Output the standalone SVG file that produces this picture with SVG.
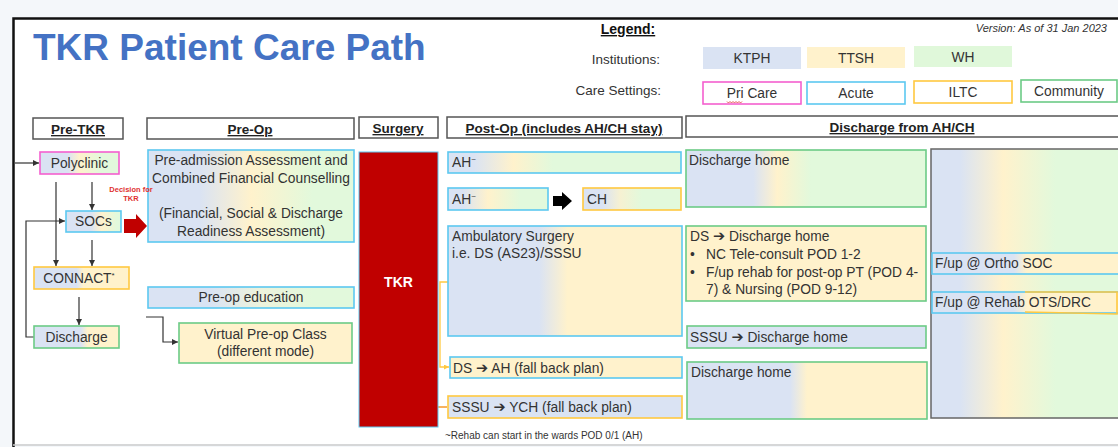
<svg xmlns="http://www.w3.org/2000/svg" width="1118" height="447" viewBox="0 0 1118 447">
<defs>
<style>
text{font-family:"Liberation Sans",Arial,sans-serif;fill:#333}
.t{font-size:13.8px}
.c{text-anchor:middle}
.a{font-family:"DejaVu Sans",sans-serif;font-size:14.5px}
.h{font-size:13.5px;font-weight:bold;text-decoration:underline;text-anchor:middle;fill:#222}
.hb{fill:#fff;stroke:#555;stroke-width:1.5}
.cy{stroke:#5cc8f0;stroke-width:1.6}
.mg{stroke:#f45fcf;stroke-width:1.6}
.gd{stroke:#ffc940;stroke-width:1.6}
.gr{stroke:#6ccb86;stroke-width:1.6}
.con{fill:none;stroke:#333;stroke-width:1.2}
</style>
<marker id="ar" markerUnits="userSpaceOnUse" markerWidth="6" markerHeight="6" refX="6" refY="3" orient="auto"><path d="M0,0 L6,3 L0,6 z" fill="#333"/></marker>
<marker id="arg" markerUnits="userSpaceOnUse" markerWidth="5" markerHeight="5" refX="5" refY="2.5" orient="auto"><path d="M0,0 L5,2.5 L0,5 z" fill="#ffc940"/></marker>
<linearGradient id="gPoly"><stop offset="0" stop-color="#dae3f3"/><stop offset="0.35" stop-color="#dae3f3"/><stop offset="0.5" stop-color="#fff2cc"/><stop offset="0.78" stop-color="#e2f9dc"/><stop offset="1" stop-color="#e2f9dc"/></linearGradient>
<linearGradient id="gSoc"><stop offset="0" stop-color="#dae3f3"/><stop offset="0.45" stop-color="#dae3f3"/><stop offset="0.65" stop-color="#fff2cc"/><stop offset="0.92" stop-color="#e2f9dc"/></linearGradient>
<linearGradient id="gBY45"><stop offset="0" stop-color="#dae3f3"/><stop offset="0.45" stop-color="#dae3f3"/><stop offset="0.52" stop-color="#fff2cc"/><stop offset="1" stop-color="#fff2cc"/></linearGradient>
<linearGradient id="gBY56"><stop offset="0" stop-color="#dae3f3"/><stop offset="0.55" stop-color="#dae3f3"/><stop offset="0.63" stop-color="#fff2cc"/><stop offset="1" stop-color="#fff2cc"/></linearGradient>
<linearGradient id="gBY39"><stop offset="0" stop-color="#dae3f3"/><stop offset="0.39" stop-color="#dae3f3"/><stop offset="0.51" stop-color="#fff2cc"/><stop offset="1" stop-color="#fff2cc"/></linearGradient>
<linearGradient id="gBY43"><stop offset="0" stop-color="#dae3f3"/><stop offset="0.43" stop-color="#dae3f3"/><stop offset="0.5" stop-color="#fff2cc"/><stop offset="1" stop-color="#fff2cc"/></linearGradient>
<linearGradient id="gPre"><stop offset="0" stop-color="#dae3f3"/><stop offset="0.25" stop-color="#dae3f3"/><stop offset="0.5" stop-color="#fff2cc"/><stop offset="0.8" stop-color="#e2f9dc"/><stop offset="1" stop-color="#e2f9dc"/></linearGradient>
<linearGradient id="gEdu"><stop offset="0" stop-color="#dae3f3"/><stop offset="0.3" stop-color="#dae3f3"/><stop offset="0.55" stop-color="#eef3dc"/><stop offset="0.8" stop-color="#e2f9dc"/><stop offset="1" stop-color="#e2f9dc"/></linearGradient>
<linearGradient id="gAH1"><stop offset="0" stop-color="#dae3f3"/><stop offset="0.11" stop-color="#dae3f3"/><stop offset="0.28" stop-color="#fff2cc"/><stop offset="0.45" stop-color="#e2f9dc"/><stop offset="1" stop-color="#e2f9dc"/></linearGradient>
<linearGradient id="gAH2"><stop offset="0" stop-color="#dae3f3"/><stop offset="0.15" stop-color="#dae3f3"/><stop offset="0.4" stop-color="#fff2cc"/><stop offset="0.72" stop-color="#e2f9dc"/><stop offset="1" stop-color="#e2f9dc"/></linearGradient>
<linearGradient id="gCH"><stop offset="0" stop-color="#dae3f3"/><stop offset="0.2" stop-color="#dae3f3"/><stop offset="0.38" stop-color="#f6f1d2"/><stop offset="0.6" stop-color="#e2f9dc"/><stop offset="1" stop-color="#e2f9dc"/></linearGradient>
<linearGradient id="gDH1"><stop offset="0" stop-color="#dae3f3"/><stop offset="0.28" stop-color="#dae3f3"/><stop offset="0.38" stop-color="#fff2cc"/><stop offset="0.52" stop-color="#e2f9dc"/><stop offset="1" stop-color="#e2f9dc"/></linearGradient>
<linearGradient id="gBig"><stop offset="0" stop-color="#dae3f3"/><stop offset="0.15" stop-color="#dae3f3"/><stop offset="0.37" stop-color="#fff2cc"/><stop offset="0.64" stop-color="#e2f9dc"/><stop offset="1" stop-color="#e2f9dc"/></linearGradient>
</defs>

<rect x="0" y="0" width="1118" height="447" fill="#f4f7fa"/>
<rect x="13" y="18" width="1110" height="426" fill="#fff"/>
<path d="M13.5,447 V18.5 H1118" fill="none" stroke="#111" stroke-width="2.5"/>
<path d="M13,445 H1118" stroke="#ccc" stroke-width="1.5"/>

<g id="title"><text x="33" y="60" style="font-size:37px;font-weight:bold;fill:#4472c4">TKR Patient Care Path</text></g>

<g id="legend">
<text x="628" y="34" style="font-size:14px;font-weight:bold;text-decoration:underline;text-anchor:middle;fill:#111">Legend:</text>
<text x="1107" y="32" style="font-size:11px;font-style:italic;text-anchor:end">Version: As of 31 Jan 2023</text>
<text x="660" y="64" style="font-size:13.5px;text-anchor:end">Institutions:</text>
<text x="661" y="95" style="font-size:13.5px;text-anchor:end">Care Settings:</text>
<rect x="703" y="47" width="98" height="22" fill="#dae3f3"/>
<text x="752" y="63" class="t c">KTPH</text>
<rect x="807" y="47" width="98" height="21" fill="#fff2cc"/>
<text x="856" y="63" class="t c">TTSH</text>
<rect x="914" y="46" width="98" height="21" fill="#e0f8da"/>
<text x="963" y="62" class="t c">WH</text>
<rect x="703" y="82" width="98" height="22" fill="#fff" class="mg"/>
<text x="752" y="98" class="t c">Pri Care</text>
<path d="M727,101.5 l1.5,1.5 l1.5,-1.5 l1.5,1.5 l1.5,-1.5 l1.5,1.5 l1.5,-1.5 l1.5,1.5 l1.5,-1.5 l1.5,1.5 l1.5,-1.5" fill="none" stroke="#e03030" stroke-width="0.8"/>
<rect x="807" y="82" width="98" height="22" fill="#fff" class="cy"/>
<text x="856" y="98" class="t c">Acute</text>
<rect x="914" y="81" width="98" height="22" fill="#fff" class="gd"/>
<text x="963" y="97" class="t c">ILTC</text>
<rect x="1021" y="80" width="96" height="22" fill="#fff" class="gr"/>
<text x="1069" y="96" class="t c">Community</text>
</g>

<g id="headers">
<rect x="33" y="118" width="90" height="21" class="hb"/><text x="78" y="134" class="h">Pre-TKR</text>
<rect x="147" y="118" width="207" height="21" class="hb"/><text x="250" y="134" class="h">Pre-Op</text>
<rect x="359" y="117" width="79" height="21" class="hb"/><text x="398" y="133" class="h">Surgery</text>
<rect x="447" y="117" width="235" height="21" class="hb"/><text x="564" y="133" class="h">Post-Op (includes AH/CH stay)</text>
<rect x="686" y="116" width="440" height="21" class="hb"/><text x="902" y="132" class="h">Discharge from AH/CH</text>
</g>

<g id="connectors">
<path d="M15,163 H39" class="con" marker-end="url(#ar)"/>
<path d="M56,182 V266" class="con" marker-end="url(#ar)"/>
<path d="M92,182 V210" class="con" marker-end="url(#ar)"/>
<path d="M92,240 V266" class="con" marker-end="url(#ar)"/>
<path d="M79,297 V325" class="con" marker-end="url(#ar)"/>
<path d="M34,337 H26 V221 H65" class="con" marker-end="url(#ar)"/>
<path d="M146,317 H163 V342 H178" class="con" marker-end="url(#ar)"/>
<path d="M448,282 H440 V367 H449" fill="none" stroke="#ffc940" stroke-width="1.3" marker-end="url(#arg)"/>
<path d="M427,370 V407 H447" fill="none" stroke="#f59a2c" stroke-width="1.5"/>
<polygon points="124,219 136,219 136,214 147,226 136,238 136,233 124,233" fill="#c00000"/>
<polygon points="553,196 562,196 562,192 572,201 562,210 562,206 553,206" fill="#000"/>
</g>

<g id="polyclinic"><rect x="40" y="152" width="79" height="22" fill="url(#gPoly)" class="mg"/><text x="79.5" y="168" class="t c">Polyclinic</text></g>
<g id="socs"><rect x="66" y="211" width="55" height="21" fill="url(#gSoc)" class="cy"/><text x="93.5" y="226" class="t c">SOCs</text></g>
<g id="connact"><rect x="34" y="267" width="95" height="22" fill="url(#gBY45)" class="gd"/><text x="79" y="283" class="t c">CONNACT<tspan dy="-5" style="font-size:8px">*</tspan></text></g>
<g id="discharge"><rect x="34" y="326" width="85" height="22" fill="url(#gBY56)" class="gr"/><text x="76.5" y="342" class="t c">Discharge</text></g>

<g id="preadmission"><rect x="148" y="150" width="206" height="92" fill="url(#gPre)" class="cy"/>
<text x="251" y="165" class="t c">Pre-admission Assessment and</text>
<text x="251" y="183" class="t c">Combined Financial Counselling</text>
<text x="251" y="218" class="t c">(Financial, Social &amp; Discharge</text>
<text x="251" y="236" class="t c">Readiness Assessment)</text></g>
<g id="preopedu"><rect x="148" y="287" width="206" height="21" fill="url(#gEdu)" class="cy"/><text x="251" y="302" class="t c">Pre-op education</text></g>
<g id="virtual"><rect x="179" y="323" width="173" height="40" fill="#fff2cc" class="gr"/><text x="265.5" y="339" class="t c">Virtual Pre-op Class</text><text x="265.5" y="356" class="t c">(different mode)</text></g>

<g id="tkr"><rect x="359" y="152" width="79" height="275" fill="#c00000" stroke="#5cc8f0" stroke-width="1"/><text x="398.5" y="287" style="font-size:14px;font-weight:bold;text-anchor:middle;fill:#fff">TKR</text></g>

<g id="ah1"><rect x="448" y="152" width="233" height="21" fill="url(#gAH1)" class="cy"/><text x="452" y="167" class="t">AH<tspan dy="-5" style="font-size:8px">~</tspan></text></g>
<g id="ah2"><rect x="448" y="188" width="100" height="22" fill="url(#gAH2)" class="cy"/><text x="452" y="204" class="t">AH<tspan dy="-5" style="font-size:8px">~</tspan></text></g>
<g id="ch"><rect x="583" y="188" width="98" height="22" fill="url(#gCH)" class="gd"/><text x="587" y="204" class="t">CH</text></g>
<g id="ambulatory"><rect x="448" y="226" width="234" height="110" fill="url(#gBY39)" class="cy"/><text x="452" y="241" class="t">Ambulatory Surgery</text><text x="452" y="258" class="t">i.e. DS (AS23)/SSSU</text></g>
<g id="dsah"><rect x="450" y="357" width="232" height="21" fill="#fff2cc" class="cy"/><text x="453" y="373" class="t">DS <tspan class="a">➔</tspan> AH (fall back plan)</text></g>
<g id="sssuych"><rect x="448" y="396" width="234" height="22" fill="#dae3f3" class="gd"/><text x="452" y="412" class="t">SSSU <tspan class="a">➔</tspan> YCH (fall back plan)</text></g>
<g id="footnote"><text x="445" y="439" style="font-size:10px">~Rehab can start in the wards POD 0/1 (AH)</text></g>

<g id="dh1"><rect x="686" y="150" width="240" height="57" fill="url(#gDH1)" class="gr"/><text x="689" y="165" class="t">Discharge home</text></g>
<g id="dsdh"><rect x="686" y="226" width="240" height="75" fill="#fff2cc" class="gr"/>
<text x="690" y="241" class="t">DS <tspan class="a">➔</tspan> Discharge home</text>
<text x="690" y="259" class="t">•</text><text x="706" y="259" class="t">NC Tele-consult POD 1-2</text>
<text x="690" y="277" class="t">•</text><text x="706" y="277" class="t">F/up rehab for post-op PT (POD 4-</text>
<text x="706" y="294" class="t">7) &amp; Nursing (POD 9-12)</text></g>
<g id="sssudh"><rect x="687" y="326" width="239" height="22" fill="#dae3f3" class="gr"/><text x="690" y="342" class="t">SSSU <tspan class="a">➔</tspan> Discharge home</text></g>
<g id="dh2"><rect x="687" y="362" width="240" height="57" fill="url(#gBY43)" class="gr"/><text x="691" y="377" class="t">Discharge home</text></g>

<g id="followup"><rect x="931" y="149" width="195" height="269" fill="url(#gBig)" stroke="#666" stroke-width="1.5"/></g>
<g id="ortho"><rect x="932" y="253" width="190" height="21" fill="url(#gBY43)" class="cy"/><text x="935" y="268" class="t">F/up @ Ortho SOC</text></g>
<g id="rehab"><rect x="932" y="292" width="190" height="21" fill="url(#gBY43)" class="cy"/><path d="M1025,292 H1117 V314 L1025,312" fill="none" stroke="#ffc940" stroke-width="1.6"/><text x="935" y="307" class="t">F/up @ Rehab OTS/DRC</text></g>

<g id="decision"><text x="131" y="192" style="font-size:7.5px;font-weight:bold;text-anchor:middle;fill:#e03030">Decision for</text><text x="131" y="201" style="font-size:7.5px;font-weight:bold;text-anchor:middle;fill:#e03030">TKR</text></g>
</svg>
